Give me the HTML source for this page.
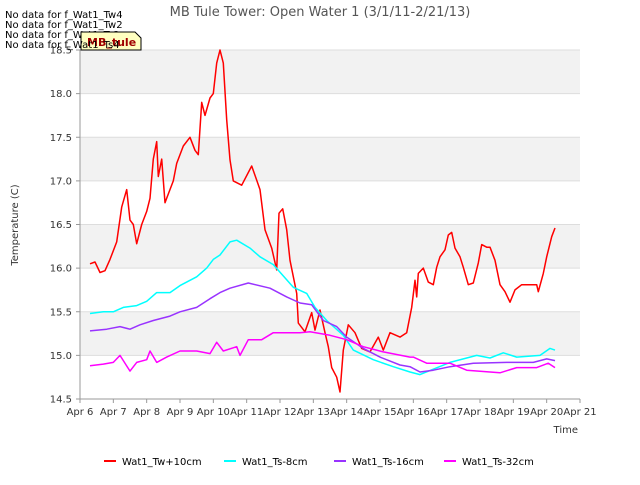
<!DOCTYPE html>
<html><head><meta charset="utf-8"><style>
body{margin:0;background:#fff;font-family:"Liberation Sans","DejaVu Sans",sans-serif;}
svg text{font-family:"DejaVu Sans","Liberation Sans",sans-serif;}
</style></head><body>
<svg id="chart" width="640" height="480" xmlns="http://www.w3.org/2000/svg">
<rect width="640" height="480" fill="#fff"/>
<g id="bands"></g><g id="grid"></g><g id="series"></g><g id="axes"></g>
<text x="320" y="16" text-anchor="middle" font-size="13" fill="#555">MB Tule Tower: Open Water 1 (3/1/11-2/21/13)</text>
<text x="18" y="225" transform="rotate(-90 18 225)" text-anchor="middle" font-size="10" fill="#333">Temperature (C)</text>
<text x="578" y="433" text-anchor="end" font-size="10" fill="#333">Time</text>
<g font-size="10" fill="#000">
<text x="5" y="18">No data for f_Wat1_Tw4</text>
<text x="5" y="28">No data for f_Wat1_Tw2</text>
<text x="5" y="38">No data for f_Wat1_Ts2</text>
</g>
<path d="M81 32 L135 32 L141 38 L141 50 L81 50 Z" fill="#ffffc0" stroke="#000" stroke-width="1"/>
<text x="87" y="46" font-size="11" font-weight="bold" fill="#a00000">MB_tule</text>
<text x="5" y="48" font-size="10" fill="#000">No data for f_Wat1_Ts4</text>
<g id="legend"></g>
</svg>
<script>
const NS="http://www.w3.org/2000/svg";
const xTicks=["Apr 6","Apr 7","Apr 8","Apr 9","Apr 10","Apr 11","Apr 12","Apr 13","Apr 14","Apr 15","Apr 16","Apr 17","Apr 18","Apr 19","Apr 20","Apr 21"];
const yTicks=[14.5,15.0,15.5,16.0,16.5,17.0,17.5,18.0,18.5];
const seriesNames=["Wat1_Tw+10cm","Wat1_Ts-8cm","Wat1_Ts-16cm","Wat1_Ts-32cm"];
const seriesColors=["#ff0000","#00ffff","#9933ff","#ff00ff"];
const twX=[0.3,0.45,0.6,0.75,0.9,1.1,1.25,1.4,1.5,1.6,1.7,1.85,2.0,2.1,2.2,2.3,2.35,2.45,2.55,2.65,2.8,2.9,3.1,3.3,3.45,3.55,3.65,3.75,3.9,4.0,4.1,4.2,4.3,4.4,4.5,4.6,4.85,5.15,5.4,5.55,5.75,5.9,5.97,6.08,6.2,6.3,6.5,6.55,6.75,6.95,7.05,7.2,7.35,7.45,7.55,7.7,7.8,7.9,8.05,8.25,8.45,8.7,8.95,9.1,9.3,9.6,9.8,9.95,10.05,10.1,10.15,10.3,10.45,10.6,10.7,10.8,10.95,11.05,11.15,11.25,11.4,11.5,11.65,11.8,11.95,12.05,12.2,12.3,12.45,12.6,12.75,12.9,13.05,13.25,13.55,13.7,13.75,13.9,14.0,14.15,14.25];
const twY=[16.05,16.07,15.95,15.97,16.1,16.3,16.7,16.9,16.55,16.5,16.28,16.5,16.65,16.8,17.25,17.45,17.05,17.25,16.75,16.85,17.0,17.2,17.4,17.5,17.35,17.3,17.9,17.75,17.95,18.0,18.35,18.5,18.35,17.7,17.24,17.0,16.95,17.17,16.9,16.44,16.23,15.98,16.63,16.68,16.44,16.09,15.71,15.37,15.27,15.49,15.29,15.52,15.26,15.1,14.86,14.75,14.58,15.06,15.35,15.26,15.08,15.04,15.21,15.06,15.26,15.21,15.26,15.55,15.86,15.67,15.94,16.0,15.84,15.81,16.01,16.13,16.21,16.38,16.41,16.23,16.13,16.01,15.81,15.83,16.06,16.27,16.24,16.24,16.09,15.81,15.73,15.61,15.75,15.81,15.81,15.81,15.73,15.94,16.13,16.36,16.46];
const ts8X=[0.3,0.7,1.0,1.3,1.7,2.0,2.3,2.7,3.0,3.5,3.8,4.0,4.2,4.5,4.7,5.1,5.4,5.8,6.4,6.8,7.05,7.4,7.9,8.2,8.8,9.4,9.9,10.2,11.1,11.9,12.3,12.7,13.1,13.8,14.1,14.25];
const ts8Y=[15.48,15.5,15.5,15.55,15.57,15.62,15.72,15.72,15.8,15.9,16.0,16.1,16.15,16.3,16.32,16.23,16.13,16.04,15.78,15.71,15.55,15.4,15.23,15.06,14.95,14.87,14.81,14.78,14.92,15.0,14.97,15.03,14.98,15.0,15.08,15.06];
const ts16X=[0.3,0.8,1.2,1.5,1.8,2.2,2.7,3.0,3.5,3.9,4.2,4.5,5.05,5.7,6.2,6.6,6.95,7.3,7.7,8.0,8.5,9.0,9.6,9.9,10.2,10.6,11.1,11.8,12.8,13.6,14.0,14.25];
const ts16Y=[15.28,15.3,15.33,15.3,15.35,15.4,15.45,15.5,15.55,15.65,15.72,15.77,15.83,15.77,15.67,15.6,15.58,15.4,15.33,15.21,15.08,14.98,14.89,14.87,14.81,14.83,14.87,14.91,14.92,14.92,14.96,14.94];
const ts32X=[0.3,0.7,1.0,1.2,1.5,1.7,2.0,2.1,2.3,2.6,3.0,3.5,3.9,4.1,4.3,4.7,4.8,5.05,5.45,5.8,6.6,6.9,7.5,8.0,8.5,9.1,9.9,10.0,10.4,11.1,11.6,12.6,13.1,13.7,14.05,14.25];
const ts32Y=[14.88,14.9,14.92,15.0,14.82,14.92,14.95,15.05,14.92,14.98,15.05,15.05,15.02,15.15,15.05,15.1,15.0,15.18,15.18,15.26,15.26,15.27,15.23,15.18,15.1,15.04,14.98,14.98,14.91,14.91,14.83,14.8,14.86,14.86,14.91,14.86];
const L=80,R=580,T=50,B=399;
const xS=d=>L+d*(R-L)/15;
const yS=v=>B-(v-14.5)*(B-T)/4;
function mk(tag,attrs,parent){const e=document.createElementNS(NS,tag);for(const k in attrs)e.setAttribute(k,attrs[k]);parent.appendChild(e);return e;}
const bands=document.getElementById('bands'),grid=document.getElementById('grid'),axes=document.getElementById('axes'),ser=document.getElementById('series'),leg=document.getElementById('legend');
mk('rect',{x:L,y:T,width:R-L,height:B-T,fill:'#fff'},bands);
for(let i=1;i<yTicks.length;i+=2){const r=mk('rect',{x:L,y:yS(yTicks[i]+0.5),width:R-L,height:yS(yTicks[i])-yS(yTicks[i]+0.5),fill:'#f2f2f2'},bands);

}
yTicks.forEach(v=>{const l=mk('line',{x1:L,x2:R,y1:yS(v),y2:yS(v),stroke:'#ddd','stroke-width':1},grid);


mk('line',{x1:L-4,x2:L,y1:yS(v),y2:yS(v),stroke:'#999'},axes);
const t=mk('text',{x:L-8,y:yS(v)+3.5,'text-anchor':'end','font-size':10,fill:'#333'},axes);t.textContent=v.toFixed(1);

});
xTicks.forEach((s,i)=>{mk('line',{x1:xS(i),x2:xS(i),y1:B,y2:B+4,stroke:'#999'},axes);
const t=mk('text',{x:xS(i),y:B+16,'text-anchor':'middle','font-size':10,fill:'#333'},axes);t.textContent=s;

});
mk('line',{x1:L,x2:R,y1:B,y2:B,stroke:'#999'},axes);
mk('line',{x1:L,x2:L,y1:T,y2:B,stroke:'#999'},axes);
const data=[[twX,twY],[ts8X,ts8Y],[ts16X,ts16Y],[ts32X,ts32Y]];
const names=['series-tw-10cm','series-ts-8cm','series-ts-16cm','series-ts-32cm'];
data.forEach((d,k)=>{const pts=d[0].map((x,i)=>xS(x).toFixed(1)+','+yS(d[1][i]).toFixed(1)).join(' ');
const p=mk('polyline',{points:pts,fill:'none',stroke:seriesColors[k],'stroke-width':1.5,'stroke-linejoin':'round'},ser);

});
const lx=[104,224,334,444];
seriesNames.forEach((n,k)=>{const g=mk('g',{},leg);


mk('line',{x1:lx[k],x2:lx[k]+12,y1:461,y2:461,stroke:seriesColors[k],'stroke-width':2},g);
const t=mk('text',{x:lx[k]+18,y:465,'font-size':10,fill:'#000'},g);t.textContent=n;});
</script>
</body></html>
